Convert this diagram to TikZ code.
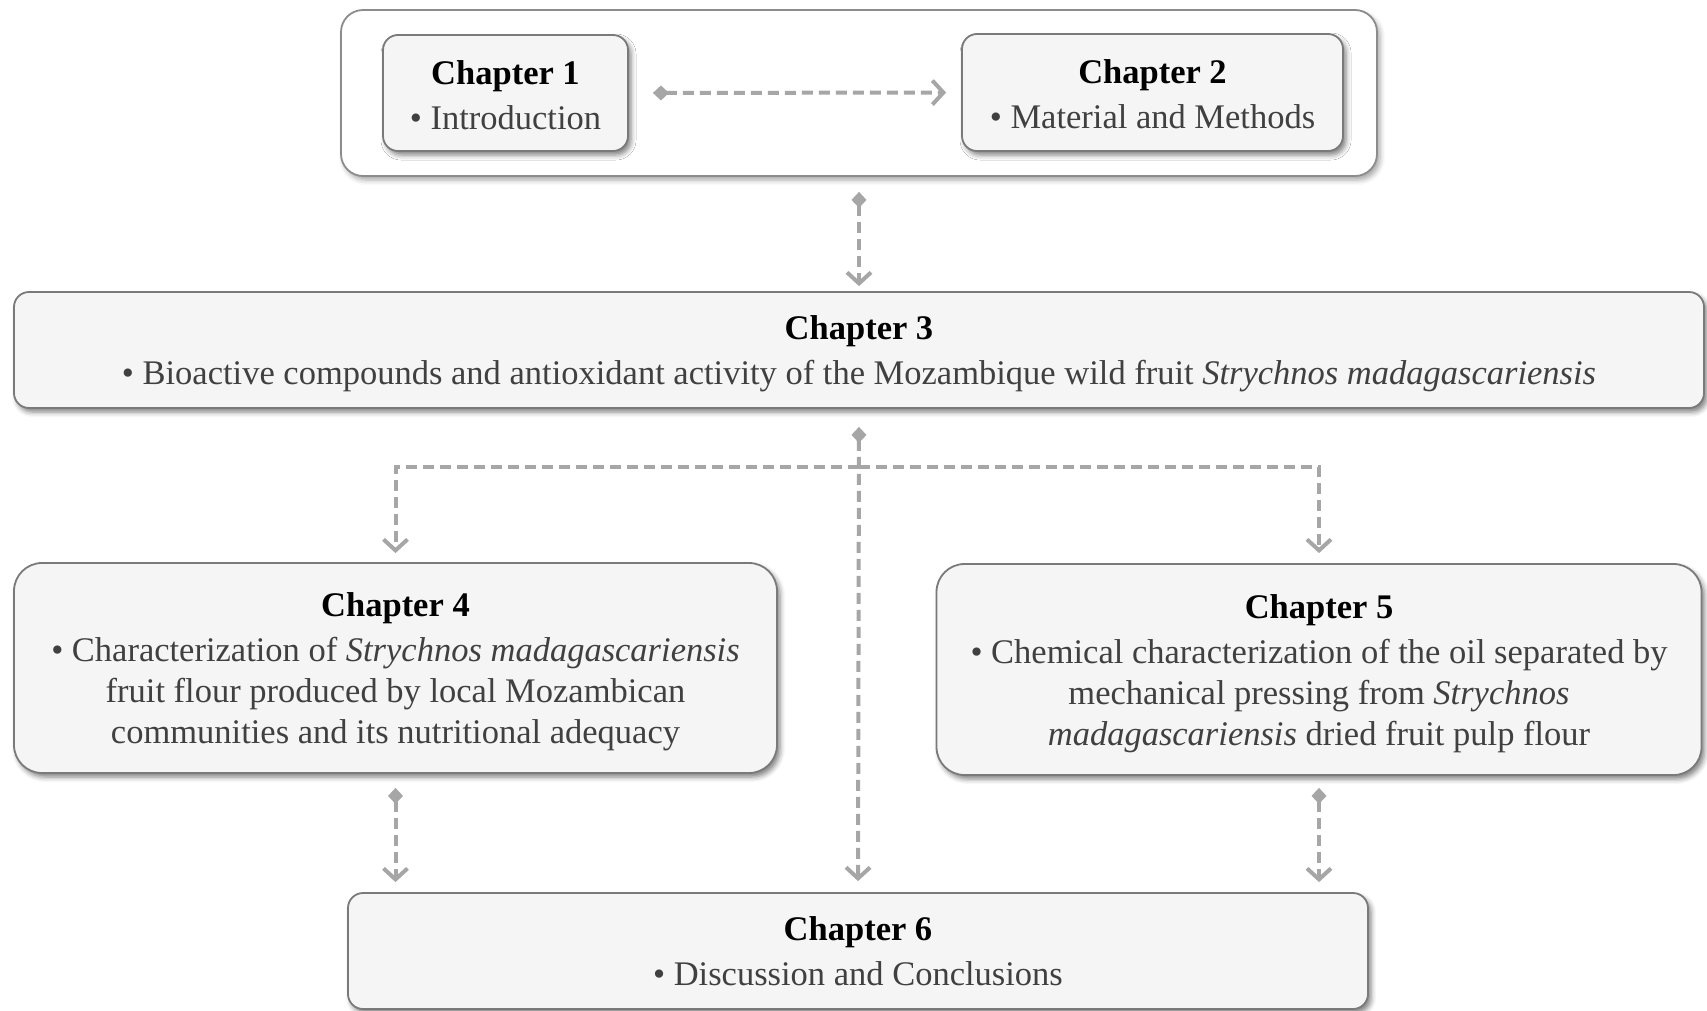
\documentclass[tikz,border=0pt]{standalone}
\usepackage{fontspec}
\setmainfont{Liberation Serif}
\usetikzlibrary{arrows.meta,shadows.blur}
\definecolor{boxfill}{HTML}{F5F5F5}
\definecolor{boxline}{HTML}{7A7A7A}
\definecolor{frameline}{HTML}{8C8C8C}
\definecolor{arrowgray}{HTML}{A6A6A6}
\definecolor{bodytext}{HTML}{404040}
\tikzset{
  chbox/.style={draw=boxline, fill=boxfill, line width=1.8pt, rounded corners=15pt,
    align=center, inner sep=0pt, text=bodytext,
    font=\fontsize{34.5}{41}\selectfont,
    blur shadow={shadow xshift=3pt, shadow yshift=-4pt, shadow blur radius=5pt, shadow opacity=50}},
  bigbox/.style={chbox, rounded corners=28pt},
  framebox/.style={draw=frameline, fill=white, line width=1.8pt, rounded corners=22pt,
    inner sep=0pt,
    blur shadow={shadow xshift=3pt, shadow yshift=-4pt, shadow blur radius=5pt, shadow opacity=35}},
  conn/.style={draw=arrowgray, line width=4pt, dash pattern=on 11pt off 6pt},
  dtip/.style={-{Straight Barb[length=11pt,width=24pt]}},
  ddtip/.style={{Diamond[length=16pt,width=15pt]}-{Straight Barb[length=11pt,width=24pt]}}
}
\newcommand{\ttl}[2][0pt]{\rule{0pt}{#1}{\color{black}\bfseries #2}}
\begin{document}
\begin{tikzpicture}[x=1pt,y=-1pt]
\useasboundingbox (0,0) rectangle (1707,1010);
\node[framebox, minimum width=1036pt, minimum height=166pt] (frame) at (859,93) {};
\node[chbox, minimum width=245pt, minimum height=116pt] (ch1) at (505.5,93)
  {\ttl[27.5pt]{Chapter 1}\\[4pt]\textbullet{} Introduction};
\node[chbox, minimum width=381pt, minimum height=117pt] (ch2) at (1152.5,92.5)
  {\ttl[27.5pt]{Chapter 2}\\[4pt]\textbullet{} Material and Methods};
\node[chbox, minimum width=1690pt, minimum height=116pt] (ch3) at (859,350)
  {\ttl[31.5pt]{Chapter 3}\\[4pt]\textbullet{} Bioactive compounds and antioxidant activity of the Mozambique wild fruit \textit{Strychnos madagascariensis}};
\node[bigbox, minimum width=763pt, minimum height=210pt] (ch4) at (395.5,668)
  {\ttl[31.5pt]{Chapter 4}\\[4pt]\textbullet{} Characterization of \textit{Strychnos madagascariensis}\\
   fruit flour produced by local Mozambican\\ communities and its nutritional adequacy};
\node[bigbox, minimum width=765pt, minimum height=211pt] (ch5) at (1319,669.5)
  {\ttl[31.5pt]{Chapter 5}\\[4pt]\textbullet{} Chemical characterization of the oil separated by\\
   mechanical pressing from \textit{Strychnos}\\ \textit{madagascariensis} dried fruit pulp flour};
\node[chbox, minimum width=1020pt, minimum height=116pt] (ch6) at (858,951)
  {\ttl{Chapter 6}\\[4pt]\textbullet{} Discussion and Conclusions};
\coordinate (split) at (859,467);
% connectors
\draw[conn, ddtip, shorten <=24pt, shorten >=15pt] (ch1.east) -- (ch2.west);
\draw[conn, ddtip, shorten <=15pt, shorten >=5pt] (frame.south) -- (ch3.north);
\draw[conn, ddtip, shorten <=18pt, shorten >=11pt] (ch3.south) -- (ch6.north);
\draw[conn, dtip, shorten >=9pt] (split) -| (ch4.north);
\draw[conn, dtip, shorten >=10pt] (split) -| (ch5.north);
\draw[conn, ddtip, shorten <=14pt, shorten >=10pt] (ch4.south) -- (ch4.south |- ch6.north);
\draw[conn, ddtip, shorten <=12pt, shorten >=10pt] (ch5.south) -- (ch5.south |- ch6.north);
\end{tikzpicture}
\end{document}
